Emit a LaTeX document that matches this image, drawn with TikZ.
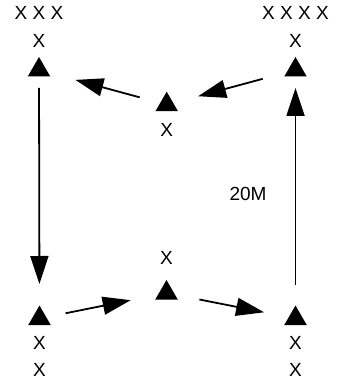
\documentclass[tikz,border=0pt]{standalone}
\usepackage{fontspec}
\setmainfont{Liberation Sans}
\usepackage{tikz}
\usetikzlibrary{arrows.meta,positioning,shapes.geometric}

\begin{document}
\begin{tikzpicture}[x=1pt,y=-1pt,
  node distance=9pt and 9pt,
  tri/.style={regular polygon,regular polygon sides=3,fill=black,draw=none,inner sep=0pt,minimum size=26pt},
  lbl/.style={inner sep=0pt,font=\fontsize{19}{23}\selectfont},
  edge/.style={-{Triangle[length=28pt,width=18pt]},line width=1.8pt}]
\useasboundingbox (0,0) rectangle (342,382);
% stations
\node[tri] (tl) at (39,70) {};
\node[tri] (tr) at (295.5,70) {};
\node[tri] (mt) at (166.7,104.7) {};
\node[tri] (mb) at (166.5,293) {};
\node[tri] (bl) at (39.5,318.5) {};
\node[tri] (br) at (295.5,318.5) {};
% labels
\node[lbl,above=9pt of tl] (tlx) {X};
\node[lbl,above=14pt of tlx] (tlxx) {X X X};
\node[lbl,above=9pt of tr] (trx) {X};
\node[lbl,above=14pt of trx] (trxx) {X X X X};
\node[lbl,below=12pt of mt] (mtx) {X};
\node[lbl,above=15pt of mb] (mbx) {X};
\node[lbl,below=11pt of bl] (blx) {X};
\node[lbl,below=14pt of blx] (blxx) {X};
\node[lbl,below=11pt of br] (brx) {X};
\node[lbl,below=14pt of brx] (brxx) {X};
\node[lbl] (dist) at (248,194) {20M};
% connectors
\draw[edge,shorten <=18pt,shorten >=34.5pt] (tl.center)--(bl.center);
\draw[edge,shorten <=33.5pt,shorten >=18pt] (br.center)--(tr.center);
\draw[edge,shorten <=34pt,shorten >=32.5pt] (tr.center)--(mt.center);
\draw[edge,shorten <=28pt,shorten >=37.7pt] (mt.center)--(tl.center);
\draw[edge,shorten <=26.6pt,shorten >=36.5pt] (bl.center)--(mb.center);
\draw[edge,shorten <=33.5pt,shorten >=32pt] (mb.center)--(br.center);
\end{tikzpicture}
\end{document}
